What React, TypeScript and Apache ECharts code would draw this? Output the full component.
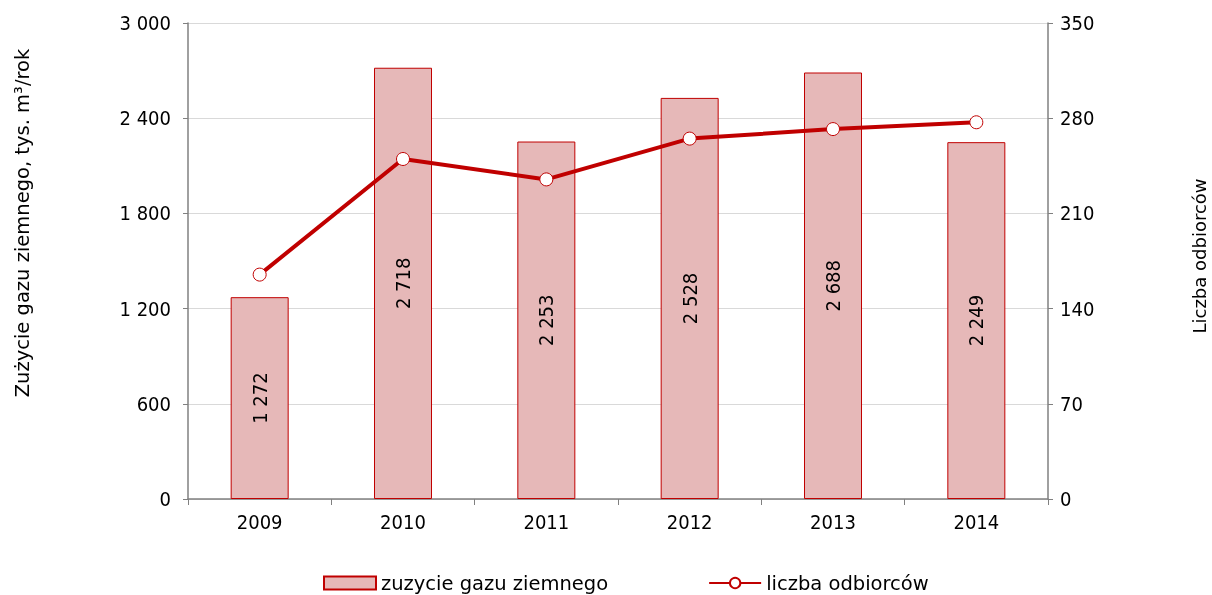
import React, { useEffect, useRef } from "react";
import * as echarts from "echarts";

const years = ["2009", "2010", "2011", "2012", "2013", "2014"];
const gasUse = [1272, 2718, 2253, 2528, 2688, 2249];
const customers = [165, 250, 235, 265, 272, 277];
const leftTicks = { min: 0, max: 3000, interval: 600 };
const rightTicks = { min: 0, max: 350, interval: 70 };

const TEXT_FONT = "DejaVu Sans";
const NUM_FONT = "'DejaVu Sans Condensed', 'Liberation Sans', sans-serif";
const fmt = (v: number) => String(v).replace(/\B(?=(\d{3})+(?!\d))/g, " ");

export default function App() {
  const ref = useRef<HTMLDivElement>(null);
  useEffect(() => {
    if (!ref.current) return;
    const chart = echarts.init(ref.current, undefined, { renderer: "svg", width: 1212, height: 595 });
    chart.setOption({
      animation: false,
      textStyle: { fontFamily: TEXT_FONT, color: "#000" },
      grid: {
        left: 188,
        top: 23,
        width: 860,
        height: 476,
        containLabel: false,
        outerBoundsMode: "none",
      },
      legend: {
        top: 568,
        left: 318,
        itemGap: 100,
        itemWidth: 52,
        itemHeight: 13,
        textStyle: { fontFamily: TEXT_FONT, fontSize: 19.5, color: "#000" },
        data: [
          { name: "zuzycie gazu ziemnego", icon: "rect" },
          { name: "liczba odbiorców" },
        ],
      },
      xAxis: {
        type: "category",
        data: years,
        boundaryGap: true,
        axisLine: { lineStyle: { color: "#808080", width: 1.5 } },
        axisTick: { show: true, alignWithLabel: false, length: 6, lineStyle: { color: "#808080" } },
        axisLabel: { fontFamily: NUM_FONT, fontSize: 20, color: "#000", margin: 13 },
      },
      yAxis: [
        {
          type: "value",
          ...leftTicks,
          name: "Zużycie gazu ziemnego, tys. m³/rok",
          nameLocation: "middle",
          nameGap: 156,
          nameTextStyle: { fontFamily: TEXT_FONT, fontSize: 19.5, color: "#000", padding: [0, 0, 0, 76] },
          axisLine: { show: true, lineStyle: { color: "#808080", width: 1.5 } },
          axisTick: { show: true, length: 5, lineStyle: { color: "#808080" } },
          axisLabel: { fontFamily: NUM_FONT, fontSize: 20, color: "#000", margin: 17, formatter: (v: number) => fmt(v) },
          splitLine: { show: true, lineStyle: { color: "#D9D9D9", width: 1 } },
        },
        {
          type: "value",
          ...rightTicks,
          position: "right",
          name: "Liczba odbiorców",
          nameLocation: "middle",
          nameGap: 142,
          nameRotate: 90,
          nameTextStyle: { fontFamily: TEXT_FONT, fontSize: 18, color: "#000", padding: [0, 0, 0, 10] },
          axisLine: { show: true, lineStyle: { color: "#808080", width: 1.5 } },
          axisTick: { show: true, length: 5, lineStyle: { color: "#808080" } },
          axisLabel: { fontFamily: NUM_FONT, fontSize: 20, color: "#000", margin: 12 },
          splitLine: { show: false },
        },
      ],
      series: [
        {
          name: "zuzycie gazu ziemnego",
          type: "bar",
          yAxisIndex: 0,
          data: gasUse,
          barWidth: 58,
          itemStyle: { color: "#E6B8B8", borderColor: "#C00000", borderWidth: 1 },
          label: {
            show: true,
            position: "inside",
            rotate: 90,
            fontFamily: NUM_FONT,
            fontSize: 20,
            color: "#000",
            formatter: (p: any) => fmt(p.value),
          },
          z: 1,
        },
        {
          name: "liczba odbiorców",
          type: "line",
          yAxisIndex: 1,
          data: customers,
          symbol: "circle",
          symbolSize: 13,
          lineStyle: { color: "#C00000", width: 4 },
          itemStyle: { color: "#FFFFFF", borderColor: "#C00000", borderWidth: 1 },
          z: 3,
        },
      ],
    });
    return () => chart.dispose();
  }, []);
  return (
    <div
      ref={ref}
      style={{ position: "fixed", left: 0, top: 0, width: 1212, height: 595 }}
    />
  );
}
